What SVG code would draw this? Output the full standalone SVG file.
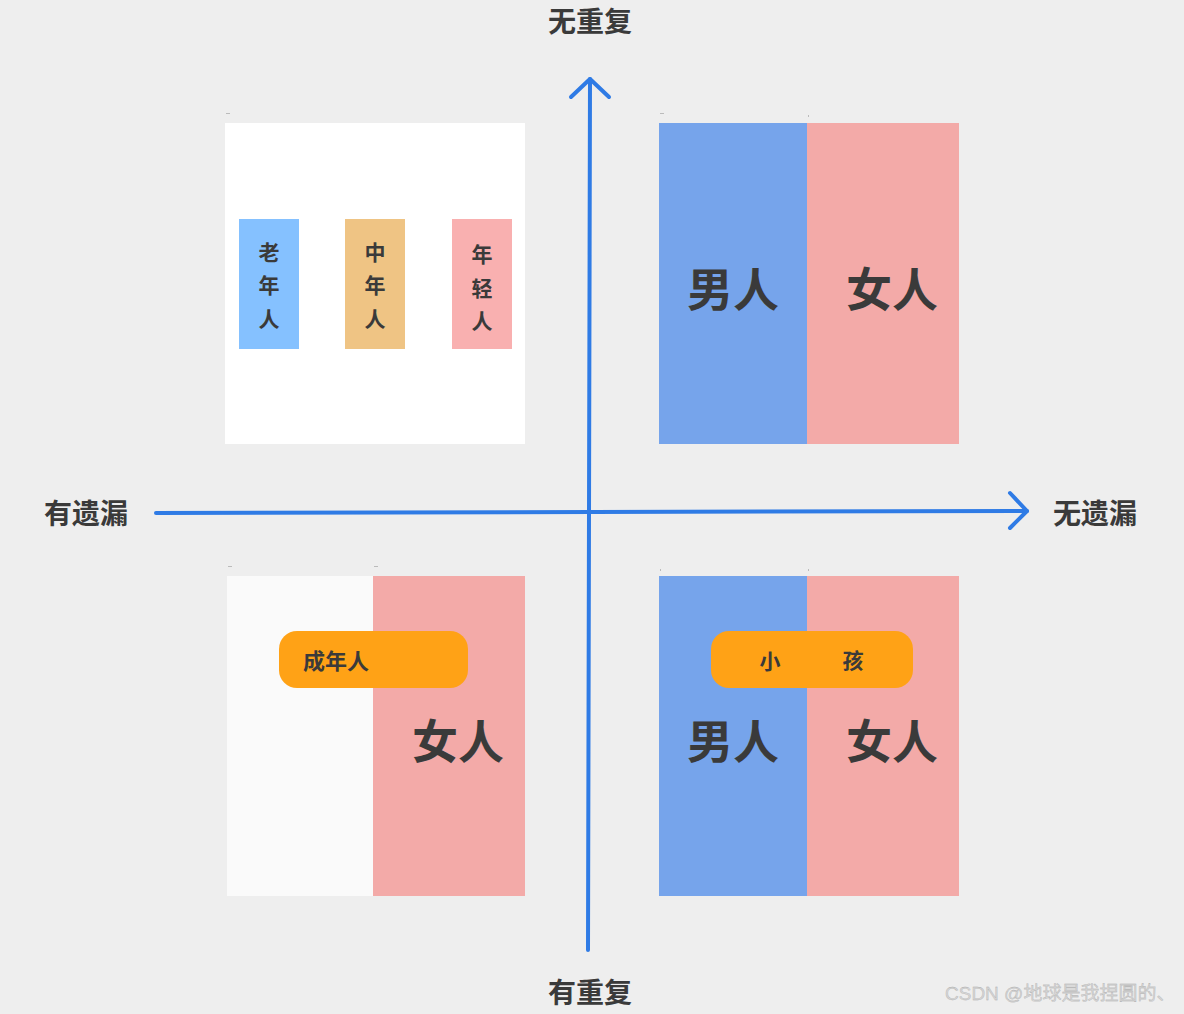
<svg xmlns="http://www.w3.org/2000/svg" width="1184" height="1014" viewBox="0 0 1184 1014">
<style>
.t{font-family:"Noto Sans CJK SC","Noto Sans",sans-serif;font-weight:bold;fill:#3a3a3a;text-anchor:middle;dominant-baseline:central}
.lbl{font-size:28px}
.big{font-size:46px}
.sm{font-size:21px}
.sm2{font-size:22px}
.ax{stroke:#2f7be5;stroke-width:4;fill:none;stroke-linecap:round;stroke-linejoin:round}
.tick{fill:#bbbbbb}
</style>
<rect width="1184" height="1014" fill="#eeeeee"/>
<g id="label-top"><text class="t lbl" x="590" y="20">无重复</text></g>
<g id="label-bottom"><text class="t lbl" x="590" y="991">有重复</text></g>
<g id="label-left"><text class="t lbl" x="86" y="512">有遗漏</text></g>
<g id="label-right"><text class="t lbl" x="1095" y="512">无遗漏</text></g>

<g id="q-top-left">
<rect class="tick" x="226" y="113" width="4" height="1"/>
<rect x="225" y="123" width="300" height="321" fill="#ffffff"/>
<rect x="239" y="219" width="60" height="130" fill="#85c1ff"/>
<rect x="345" y="219" width="60" height="130" fill="#efc484"/>
<rect x="452" y="219" width="60" height="130" fill="#f9b0b0"/>
<text class="t sm" x="269" y="251">老</text>
<text class="t sm" x="269" y="284">年</text>
<text class="t sm" x="269" y="318">人</text>
<text class="t sm" x="375" y="251">中</text>
<text class="t sm" x="375" y="284">年</text>
<text class="t sm" x="375" y="318">人</text>
<text class="t sm" x="482" y="253">年</text>
<text class="t sm" x="482" y="287">轻</text>
<text class="t sm" x="482" y="320">人</text>
</g>

<g id="q-top-right">
<rect class="tick" x="660" y="113" width="4" height="1"/>
<rect class="tick" x="808" y="115" width="1" height="2"/>
<rect x="659" y="123" width="148" height="321" fill="#76a4eb"/>
<rect x="807" y="123" width="152" height="321" fill="#f3aaa8"/>
<text class="t big" x="733" y="286">男人</text>
<text class="t big" x="892" y="286">女人</text>
</g>

<g id="q-bottom-left">
<rect class="tick" x="228" y="566" width="4" height="1"/>
<rect class="tick" x="374" y="566" width="4" height="1"/>
<rect x="227" y="576" width="146" height="320" fill="#fafafa"/>
<rect x="373" y="576" width="152" height="320" fill="#f3aaa8"/>
<rect x="279" y="631" width="189" height="57" rx="18" fill="#ffa216"/>
<text class="t sm2" x="336" y="659">成年人</text>
<text class="t big" x="458" y="738">女人</text>
</g>

<g id="q-bottom-right">
<rect class="tick" x="660" y="569" width="1" height="2"/>
<rect class="tick" x="808" y="569" width="1" height="2"/>
<rect x="659" y="576" width="148" height="320" fill="#76a4eb"/>
<rect x="807" y="576" width="152" height="320" fill="#f3aaa8"/>
<rect x="711" y="631" width="202" height="57" rx="18" fill="#ffa216"/>
<text class="t sm" x="770" y="660">小</text>
<text class="t sm" x="853" y="659">孩</text>
<text class="t big" x="733" y="738">男人</text>
<text class="t big" x="892" y="738">女人</text>
</g>

<g id="connectors">
<path class="ax" d="M588 950 L590 79"/>
<path class="ax" d="M571 97 L590 79 L609 97"/>
<path class="ax" d="M156 513 L1027 511"/>
<path class="ax" d="M1010 493 L1027 511 L1010 528"/>
</g>

<g id="watermark"><text x="945" y="993" font-family="'Liberation Sans','Noto Sans CJK SC',sans-serif" font-size="19" fill="#d6d6d6" stroke="#a8a8a8" stroke-width="0.3" dominant-baseline="central">CSDN @地球是我捏圆的、</text></g>
</svg>
